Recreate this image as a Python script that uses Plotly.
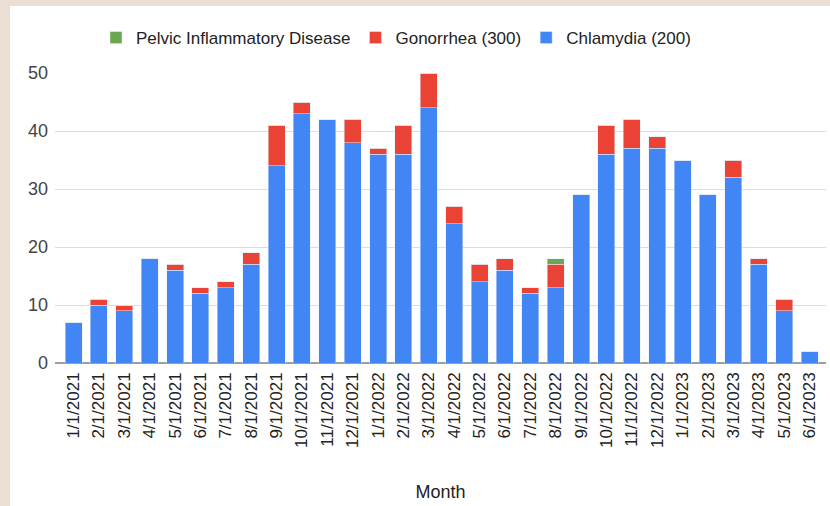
import plotly.graph_objects as go

months = ["1/1/2021","2/1/2021","3/1/2021","4/1/2021","5/1/2021","6/1/2021","7/1/2021","8/1/2021",
          "9/1/2021","10/1/2021","11/1/2021","12/1/2021","1/1/2022","2/1/2022","3/1/2022","4/1/2022",
          "5/1/2022","6/1/2022","7/1/2022","8/1/2022","9/1/2022","10/1/2022","11/1/2022","12/1/2022",
          "1/1/2023","2/1/2023","3/1/2023","4/1/2023","5/1/2023","6/1/2023"]
chlamydia = [7,10,9,18,16,12,13,17,34,43,42,38,36,36,44,24,14,16,12,13,29,36,37,37,35,29,32,17,9,2]
gonorrhea = [0,1,1,0,1,1,1,2,7,2,0,4,1,5,6,3,3,2,1,4,0,5,5,2,0,0,3,1,2,0]
pid       = [0,0,0,0,0,0,0,0,0,0,0,0,0,0,0,0,0,0,0,1,0,0,0,0,0,0,0,0,0,0]

W, H = 830, 506
ML, MR, MT, MB = 55, 4, 73, 143
pw = W - ML - MR
ph = H - MT - MB
FONT = "Liberation Sans, Arial, sans-serif"

fig = go.Figure()
fig.add_trace(go.Bar(x=months, y=chlamydia, name="Chlamydia (200)", marker_color="#4285f4"))
fig.add_trace(go.Bar(x=months, y=gonorrhea, name="Gonorrhea (300)", marker_color="#ea4335"))
fig.add_trace(go.Bar(x=months, y=pid, name="Pelvic Inflammatory Disease", marker_color="#6aa84f"))

beige = "#ebdfd4"
# beige frame (left and top strips)
fig.add_shape(type="rect", xref="paper", yref="paper", layer="below",
              x0=-ML / pw, x1=(10 - ML) / pw, y0=-MB / ph, y1=(ph + MT) / ph,
              fillcolor=beige, line_width=0)
fig.add_shape(type="rect", xref="paper", yref="paper", layer="below",
              x0=-ML / pw, x1=(W - ML) / pw, y0=(ph + MT - 6) / ph, y1=(ph + MT) / ph,
              fillcolor=beige, line_width=0)

fig.update_layout(
    width=W, height=H,
    margin=dict(l=ML, r=MR, t=MT, b=MB),
    barmode="stack",
    bargap=0.33,
    paper_bgcolor="white",
    plot_bgcolor="white",
    font=dict(family=FONT, size=17, color="#222"),
    showlegend=True,
    legend=dict(orientation="h", traceorder="reversed",
                x=(396 - ML) / pw, xanchor="center",
                y=(ph + MT - 38) / ph, yanchor="middle",
                font=dict(size=17, color="#222"),
                bgcolor="rgba(0,0,0,0)"),
    xaxis=dict(
        type="category",
        range=[-0.73, 29.65],
        tickangle=-90,
        tickfont=dict(size=17, color="#222"),
        showgrid=False,
        ticks="",
        ticklabelstandoff=5,
        title=dict(text="Month", font=dict(size=18, color="#222"), standoff=38),
    ),
    yaxis=dict(
        range=[0, 50],
        tickvals=[0, 10, 20, 30, 40, 50],
        tickfont=dict(size=18, color="#444"),
        showgrid=True, gridcolor="#dcdcdc", gridwidth=1,
        zeroline=True, zerolinecolor="#9e9e9e", zerolinewidth=2,
        ticks="", ticklabelstandoff=6,
    ),
)

fig.write_html("out.html",
               config={"displayModeBar": False},
               post_script="document.body.style.margin='0';document.body.style.padding='0';document.body.style.overflow='hidden';")
